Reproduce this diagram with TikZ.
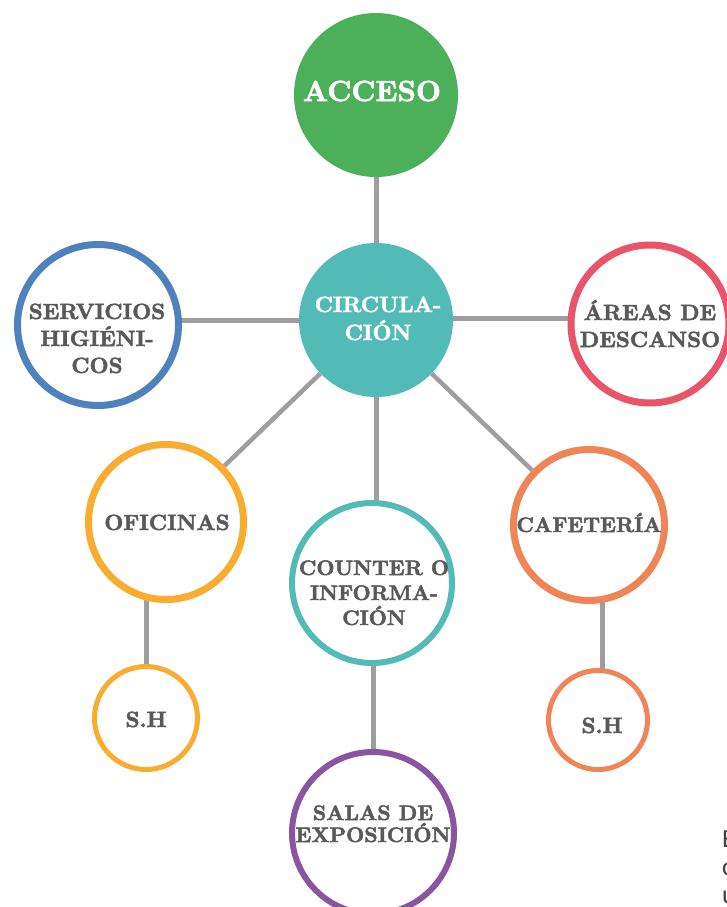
\documentclass[tikz,border=0pt]{standalone}
\usepackage{fontspec}
\setsansfont{Carlito}
\newfontface\heavyface{lmroman10-bold.otf}[FakeBold=2.4]
\usetikzlibrary{backgrounds}

\definecolor{cgreen}{RGB}{76,175,90}
\definecolor{cteal}{RGB}{82,187,182}
\definecolor{cblue}{RGB}{79,129,189}
\definecolor{cred}{RGB}{232,84,106}
\definecolor{corange}{RGB}{249,172,47}
\definecolor{csalmon}{RGB}{240,132,86}
\definecolor{cpurple}{RGB}{138,85,160}
\definecolor{clink}{RGB}{160,157,160}
\definecolor{ctext}{RGB}{89,89,89}
\definecolor{cpage}{RGB}{64,64,64}

\tikzset{
  solidhub/.style={circle, fill=#1, draw=none, inner sep=0pt},
  ringhub/.style={circle, fill=white, draw=#1, inner sep=0pt},
  label22/.style={font=\fontsize{22}{27}\selectfont\heavyface, text=ctext,
    align=center, inner sep=0pt, anchor=base},
  whitelabel/.style={label22, text=white},
  link/.style={draw=clink, line width=5pt}
}

\begin{document}
\begin{tikzpicture}[x=1pt, y=-1pt]
\useasboundingbox (0,0) rectangle (727,907);

% hubs
\node[solidhub=cgreen, minimum size=164pt] (acc) at (376,95) {};
\node[solidhub=cteal, minimum size=154pt] (cir) at (376,320) {};
\node[ringhub=cblue, line width=7pt, minimum size=161pt] (ser) at (98,325) {};
\node[ringhub=cred, line width=7pt, minimum size=158pt] (are) at (650,324) {};
\node[ringhub=corange, line width=7pt, minimum size=155pt] (ofi) at (166,522) {};
\node[ringhub=cteal, line width=6pt, minimum size=160pt] (cou) at (372,583) {};
\node[ringhub=csalmon, line width=7pt, minimum size=151pt] (caf) at (589,525) {};
\node[ringhub=corange, line width=5pt, minimum size=103pt] (shl) at (146,718) {};
\node[ringhub=csalmon, line width=5pt, minimum size=99pt] (shr) at (598,720) {};
\node[ringhub=cpurple, line width=6pt, minimum size=162pt] (sal) at (373,833) {};

% connectors behind the hubs
\begin{pgfonlayer}{background}
  \draw[link] (acc) -- (cir);
  \draw[link] (cir) -- (cir -| ser);
  \draw[link] ([yshift=2pt]cir.center) -- ([yshift=2pt]cir.center -| are);
  \draw[link, line width=4.5pt] (cir) -- (ofi);
  \draw[link, line width=4.5pt] (cir) -- (caf);
  \draw[link] (cir) -- (cir |- cou);
  \draw[link] (shl) -- (shl |- ofi);
  \draw[link] ([xshift=4pt]shr.center) -- ([xshift=4pt]shr.center |- caf);
  \draw[link] ([xshift=1pt]cou.center) -- ([xshift=1pt]cou.center |- sal);
\end{pgfonlayer}

% labels (base anchor sits on the last line)
\node[whitelabel, font=\fontsize{29}{30}\selectfont\heavyface] (acc-t) at (372,101) {ACCESO};
\node[whitelabel, font=\fontsize{22}{28}\selectfont\heavyface] (cir-t) at (378,340) {CIRCULA-\\CIÓN};
\node[label22] (ser-t) at (97,373) {SERVICIOS\\HIGIÉNI-\\COS};
\node[label22] (are-t) at (650,347) {ÁREAS DE\\DESCANSO};
\node[label22] (ofi-t) at (167,530) {OFICINAS};
\node[label22, font=\fontsize{21}{25}\selectfont\heavyface] (cou-t) at (374,625) {COUNTER O\\INFORMA-\\CIÓN};
\node[label22, font=\fontsize{21}{27}\selectfont\heavyface] (caf-t) at (589,532) {CAFETERÍA};
\node[label22] (shl-t) at (146,727) {S.H};
\node[label22] (shr-t) at (602,733) {S.H};
\node[label22, font=\fontsize{21}{22}\selectfont\heavyface] (sal-t) at (373,842) {SALAS DE\\EXPOSICIÓN};

% text running off the page edge
\node[font=\sffamily\fontsize{26}{28}\selectfont, text=cpage, align=left,
  anchor=base west, inner sep=0pt] (edge-t) at (722,903) {E\\c\\u};
\end{tikzpicture}
\end{document}
